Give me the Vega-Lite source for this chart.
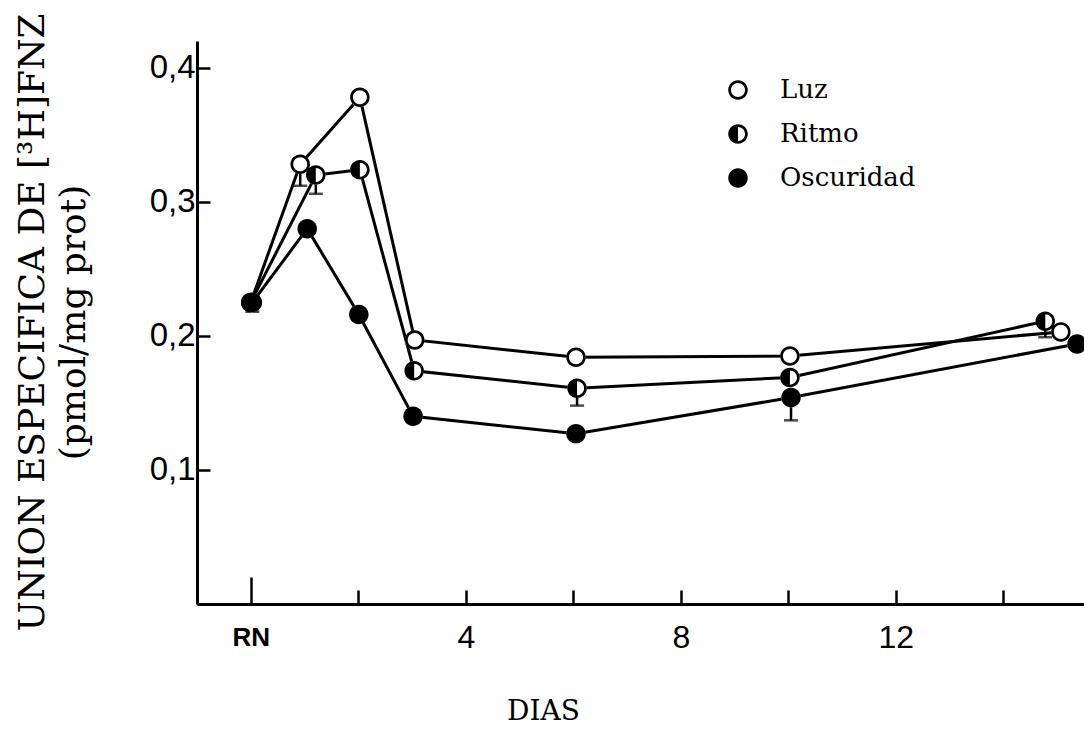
{
  "$schema": "https://vega.github.io/schema/vega-lite/v6.json",
  "width": 887,
  "height": 563,
  "autosize": {"type": "none"},
  "padding": {"left": 197, "top": 41, "right": 0, "bottom": 134},
  "background": "white",
  "config": {"view": {"stroke": null}},
  "data": {
    "values": [
      {"serie": "Luz", "dia": 0.0, "valor": 0.225},
      {"serie": "Luz", "dia": 0.92, "valor": 0.328, "inf": 0.312},
      {"serie": "Luz", "dia": 2.03, "valor": 0.378},
      {"serie": "Luz", "dia": 3.05, "valor": 0.197},
      {"serie": "Luz", "dia": 6.05, "valor": 0.184},
      {"serie": "Luz", "dia": 10.03, "valor": 0.185},
      {"serie": "Luz", "dia": 15.07, "valor": 0.203},
      {"serie": "Ritmo", "dia": 0.0, "valor": 0.225},
      {"serie": "Ritmo", "dia": 1.21, "valor": 0.32, "inf": 0.306},
      {"serie": "Ritmo", "dia": 2.03, "valor": 0.324},
      {"serie": "Ritmo", "dia": 3.04, "valor": 0.174},
      {"serie": "Ritmo", "dia": 6.07, "valor": 0.161, "inf": 0.148},
      {"serie": "Ritmo", "dia": 10.03, "valor": 0.169},
      {"serie": "Ritmo", "dia": 14.78, "valor": 0.211, "inf": 0.199},
      {"serie": "Oscuridad", "dia": 0.03, "valor": 0.225, "inf": 0.218},
      {"serie": "Oscuridad", "dia": 1.05, "valor": 0.28},
      {"serie": "Oscuridad", "dia": 2.01, "valor": 0.216},
      {"serie": "Oscuridad", "dia": 3.02, "valor": 0.14},
      {"serie": "Oscuridad", "dia": 6.05, "valor": 0.127},
      {"serie": "Oscuridad", "dia": 10.05, "valor": 0.154, "inf": 0.137},
      {"serie": "Oscuridad", "dia": 15.37, "valor": 0.194}
    ]
  },
  "encoding": {
    "x": {
      "field": "dia", "type": "quantitative",
      "scale": {"domain": [-1, 15.5], "nice": false, "zero": false},
      "axis": {
        "values": [0, 2, 4, 6, 8, 10, 12, 14],
        "labelExpr": "datum.value == 0 ? 'RN' : (datum.value % 4 == 0 ? datum.label : '')",
        "grid": false,
        "domainColor": "black", "domainWidth": 3,
        "tickColor": "black", "tickWidth": 2.5,
        "tickSize": {"condition": {"test": "datum.value == 0", "value": -27}, "value": -14},
        "labelFont": "Liberation Sans",
        "labelFontSize": {"condition": {"test": "datum.value == 0", "value": 26}, "value": 32},
        "labelFontWeight": {"condition": {"test": "datum.value == 0", "value": "bold"}, "value": "normal"},
        "labelColor": "black",
        "labelPadding": {"condition": {"test": "datum.value == 0", "value": 47}, "value": 32},
        "labelOverlap": false,
        "labelFlush": false,
        "title": "DIAS",
        "titleFont": "DejaVu Serif", "titleFontSize": 28, "titleFontWeight": "normal", "titleColor": "black",
        "titleX": 346, "titleY": 107, "titleAlign": "center", "titleBaseline": "middle"
      }
    },
    "y": {
      "field": "valor", "type": "quantitative",
      "scale": {"domain": [0, 0.42], "nice": false},
      "axis": {
        "values": [0.1, 0.2, 0.3, 0.4],
        "labelExpr": "replace(format(datum.value, '.1f'), '.', ',')",
        "grid": false,
        "domainColor": "black", "domainWidth": 3,
        "tickColor": "black", "tickWidth": 2.5, "tickSize": -13,
        "labelFont": "Liberation Sans", "labelFontSize": 33, "labelColor": "black",
        "labelPadding": 15,
        "title": ["UNION ESPECIFICA DE [³H]FNZ", "(pmol/mg prot)"],
        "titleFont": "DejaVu Serif", "titleFontSize": 36, "titleFontWeight": "normal", "titleColor": "black",
        "titleLineHeight": 41, "titleAngle": -90,
        "titleX": -182, "titleY": 281, "titleAlign": "center", "titleBaseline": "top"
      }
    }
  },
  "layer": [
    {
      "mark": {"type": "line", "color": "black", "strokeWidth": 3},
      "encoding": {"detail": {"field": "serie", "type": "nominal"}}
    },
    {
      "transform": [{"filter": "isValid(datum.inf)"}],
      "mark": {"type": "rule", "color": "black", "strokeWidth": 2.5},
      "encoding": {"y2": {"field": "inf"}}
    },
    {
      "transform": [{"filter": "isValid(datum.inf)"}],
      "mark": {"type": "tick", "orient": "horizontal", "color": "black", "size": 14, "thickness": 2.5},
      "encoding": {"y": {"field": "inf", "type": "quantitative"}}
    },
    {
      "mark": {"type": "point", "shape": "circle", "filled": true, "color": "white", "size": 380, "opacity": 1}
    },
    {
      "mark": {"type": "point", "filled": true, "color": "black", "size": 380, "opacity": 1, "strokeWidth": 0},
      "encoding": {
        "shape": {
          "field": "serie", "type": "nominal",
          "scale": {
            "domain": ["Luz", "Ritmo", "Oscuridad"],
            "range": [
              "M0,-1C0.5523,-1,1,-0.5523,1,0C1,0.5523,0.5523,1,0,1C-0.5523,1,-1,0.5523,-1,0C-1,-0.5523,-0.5523,-1,0,-1Z M0,-0.72C-0.3977,-0.72,-0.72,-0.3977,-0.72,0C-0.72,0.3977,-0.3977,0.72,0,0.72C0.3977,0.72,0.72,0.3977,0.72,0C0.72,-0.3977,0.3977,-0.72,0,-0.72Z",
              "M0,-1C0.5523,-1,1,-0.5523,1,0C1,0.5523,0.5523,1,0,1C-0.5523,1,-1,0.5523,-1,0C-1,-0.5523,-0.5523,-1,0,-1Z M0,-0.72L0,0.72C0.3977,0.72,0.72,0.3977,0.72,0C0.72,-0.3977,0.3977,-0.72,0,-0.72Z",
              "M0,-1C0.5523,-1,1,-0.5523,1,0C1,0.5523,0.5523,1,0,1C-0.5523,1,-1,0.5523,-1,0C-1,-0.5523,-0.5523,-1,0,-1Z"
            ]
          },
          "legend": {
            "orient": "none", "legendX": 528, "legendY": 36,
            "title": null, "padding": 0,
            "labelFont": "DejaVu Serif", "labelFontSize": 26, "labelColor": "black",
            "symbolSize": 380, "symbolFillColor": "black", "symbolStrokeWidth": 0,
            "rowPadding": 18, "labelOffset": 29
          }
        }
      }
    }
  ]
}
